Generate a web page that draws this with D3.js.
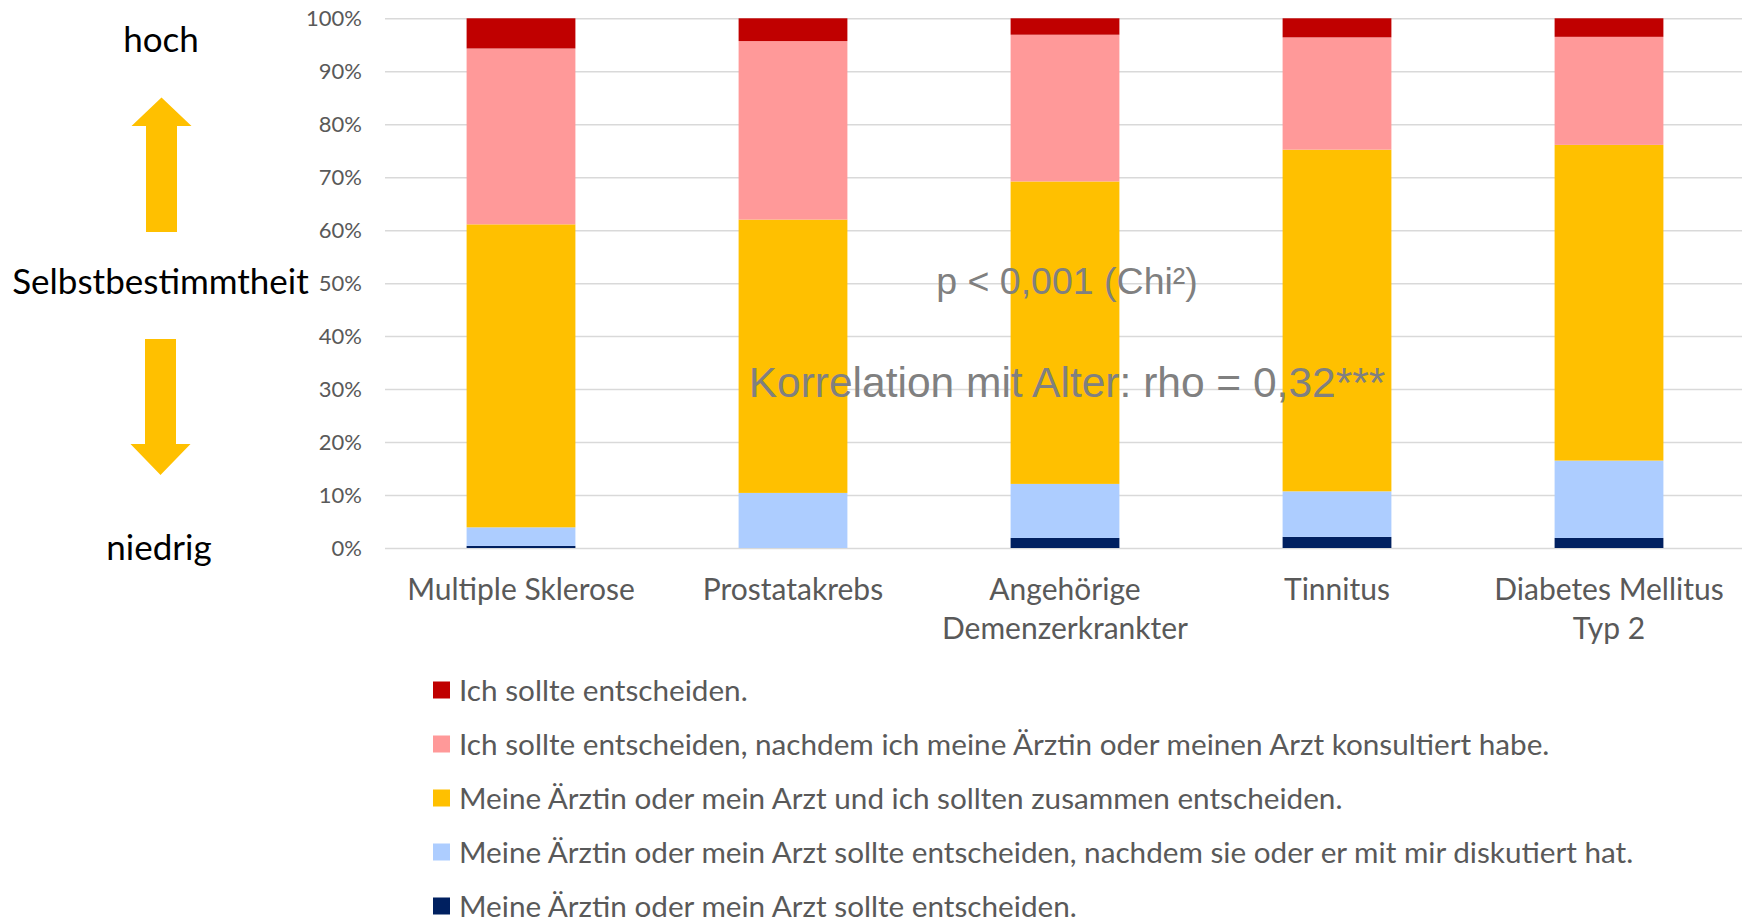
<!DOCTYPE html>
<html>
<head>
<meta charset="utf-8">
<script src="https://cdn.jsdelivr.net/npm/d3@7"></script>
<style>
  body { margin: 0; background: #fff; }
  svg { display: block; }
</style>
</head>
<body>
<div id="chart"></div>
<script>
// categories (x axis), wrapped the way the original shows them
var categories = ["Multiple Sklerose", "Prostatakrebs", "Angehörige Demenzerkrankter", "Tinnitus", "Diabetes Mellitus Typ 2"];
var categoryLines = [["Multiple Sklerose"], ["Prostatakrebs"], ["Angehörige", "Demenzerkrankter"], ["Tinnitus"], ["Diabetes Mellitus", "Typ 2"]];

// series, bottom to top of the stack (percent)
var seriesNames = [
  "Meine Ärztin oder mein Arzt sollte entscheiden.",
  "Meine Ärztin oder mein Arzt sollte entscheiden, nachdem sie oder er mit mir diskutiert hat.",
  "Meine Ärztin oder mein Arzt und ich sollten zusammen entscheiden.",
  "Ich sollte entscheiden, nachdem ich meine Ärztin oder meinen Arzt konsultiert habe.",
  "Ich sollte entscheiden."
];
var arztEntscheidet   = [0.4, 0.0, 1.9, 2.1, 1.9];
var arztNachDiskuss   = [3.5, 10.4, 10.2, 8.6, 14.6];
var zusammen          = [57.2, 51.6, 57.1, 64.5, 59.6];
var ichNachKonsult    = [33.2, 33.7, 27.7, 21.2, 20.4];
var ichEntscheide     = [5.7, 4.3, 3.1, 3.6, 3.5];
var seriesColors = ["#002060", "#ADCDFF", "#FFC000", "#FF9999", "#C00000"];

var yTicks = [0, 0.1, 0.2, 0.3, 0.4, 0.5, 0.6, 0.7, 0.8, 0.9, 1.0];

var w = 1742, h = 921;

var svg = d3.select("#chart").append("svg")
    .attr("width", w)
    .attr("height", h);

// build table for the stack
var allSeries = [arztEntscheidet, arztNachDiskuss, zusammen, ichNachKonsult, ichEntscheide];
var table = categories.map(function(c, i) {
  var row = { cat: c };
  seriesNames.forEach(function(s, j) { row[s] = allSeries[j][i] / 100; });
  return row;
});
var stacked = d3.stack().keys(seriesNames)(table);

var x = d3.scaleBand()
    .domain(categories)
    .range([385, 1745])
    .paddingInner(0.6)
    .paddingOuter(0.3);

var y = d3.scaleLinear()
    .domain([0, 1])
    .range([548, 18.3]);

// gridlines + tick labels
var yAxis = svg.append("g")
    .attr("transform", "translate(385,0)")
    .call(d3.axisLeft(y)
      .tickValues(yTicks)
      .tickFormat(d3.format(".0%"))
      .tickSize(-1360)
      .tickPadding(23));
yAxis.select(".domain").remove();
yAxis.selectAll("line").attr("stroke", "#D9D9D9").attr("stroke-width", 1.5);
yAxis.selectAll("text")
    .attr("fill", "#595959")
    .style("font-family", "Lato")
    .style("font-size", "22px");

// bars
var layers = svg.selectAll("g.layer")
    .data(stacked)
    .enter()
    .append("g")
    .attr("class", "layer")
    .attr("fill", function(d, i) { return seriesColors[i]; });

layers.selectAll("rect")
    .data(function(d) { return d; })
    .enter()
    .append("rect")
    .attr("x", function(d) { return x(d.data.cat); })
    .attr("width", x.bandwidth())
    .attr("y", function(d) { return y(d[1]); })
    .attr("height", function(d) { return y(d[0]) - y(d[1]); });

// category labels
var catLabels = svg.append("g").selectAll("text")
    .data(categories)
    .enter()
    .append("text")
    .attr("text-anchor", "middle")
    .attr("fill", "#595959")
    .style("font-family", "Lato")
    .style("font-size", "30px");
catLabels.each(function(d, i) {
  var t = d3.select(this);
  categoryLines[i].forEach(function(line, k) {
    t.append("tspan")
      .attr("x", x(d) + x.bandwidth() / 2)
      .attr("y", 600 + k * 38.5)
      .text(line);
  });
});

// annotations
svg.append("text")
    .attr("x", 1067).attr("y", 294)
    .attr("text-anchor", "middle")
    .attr("fill", "#808080")
    .style("font-family", "Liberation Sans")
    .style("font-size", "37.5px")
    .text("p < 0,001 (Chi²)");
svg.append("text")
    .attr("x", 1067).attr("y", 397)
    .attr("text-anchor", "middle")
    .attr("fill", "#808080")
    .style("font-family", "Liberation Sans")
    .style("font-size", "42.5px")
    .text("Korrelation mit Alter: rho = 0,32***");

// legend (top to bottom: red first)
var legendOrder = d3.range(seriesNames.length).reverse();
var legend = svg.append("g").selectAll("g")
    .data(legendOrder)
    .enter()
    .append("g")
    .attr("transform", function(d, i) { return "translate(433," + (690 + i * 54) + ")"; });
legend.append("rect")
    .attr("x", 0).attr("y", -8.5)
    .attr("width", 17).attr("height", 17)
    .attr("fill", function(d) { return seriesColors[d]; });
legend.append("text")
    .attr("x", 26).attr("y", 10.5)
    .attr("fill", "#595959")
    .style("font-family", "Lato")
    .style("font-size", "29.7px")
    .text(function(d) { return seriesNames[d]; });

// left side: Selbstbestimmtheit scale with arrows
var side = svg.append("g").style("font-family", "Lato").style("font-size", "35px").attr("fill", "#000");
side.append("text").attr("x", 161).attr("y", 52).attr("text-anchor", "middle").text("hoch");
side.append("text").attr("x", 160.5).attr("y", 294).attr("text-anchor", "middle").text("Selbstbestimmtheit");
side.append("text").attr("x", 159).attr("y", 560).attr("text-anchor", "middle").text("niedrig");

function arrow(cx, tipY, headY, endY) {
  var hw = 30, sw = 15.5;
  return "M" + cx + "," + tipY +
    "L" + (cx + hw) + "," + headY +
    "L" + (cx + sw) + "," + headY +
    "L" + (cx + sw) + "," + endY +
    "L" + (cx - sw) + "," + endY +
    "L" + (cx - sw) + "," + headY +
    "L" + (cx - hw) + "," + headY + "Z";
}
side.append("path").attr("d", arrow(161.5, 97.5, 126, 232)).attr("fill", "#FFC000");
side.append("path").attr("d", arrow(160.5, 475, 444, 339)).attr("fill", "#FFC000");
</script>
</body>
</html>
